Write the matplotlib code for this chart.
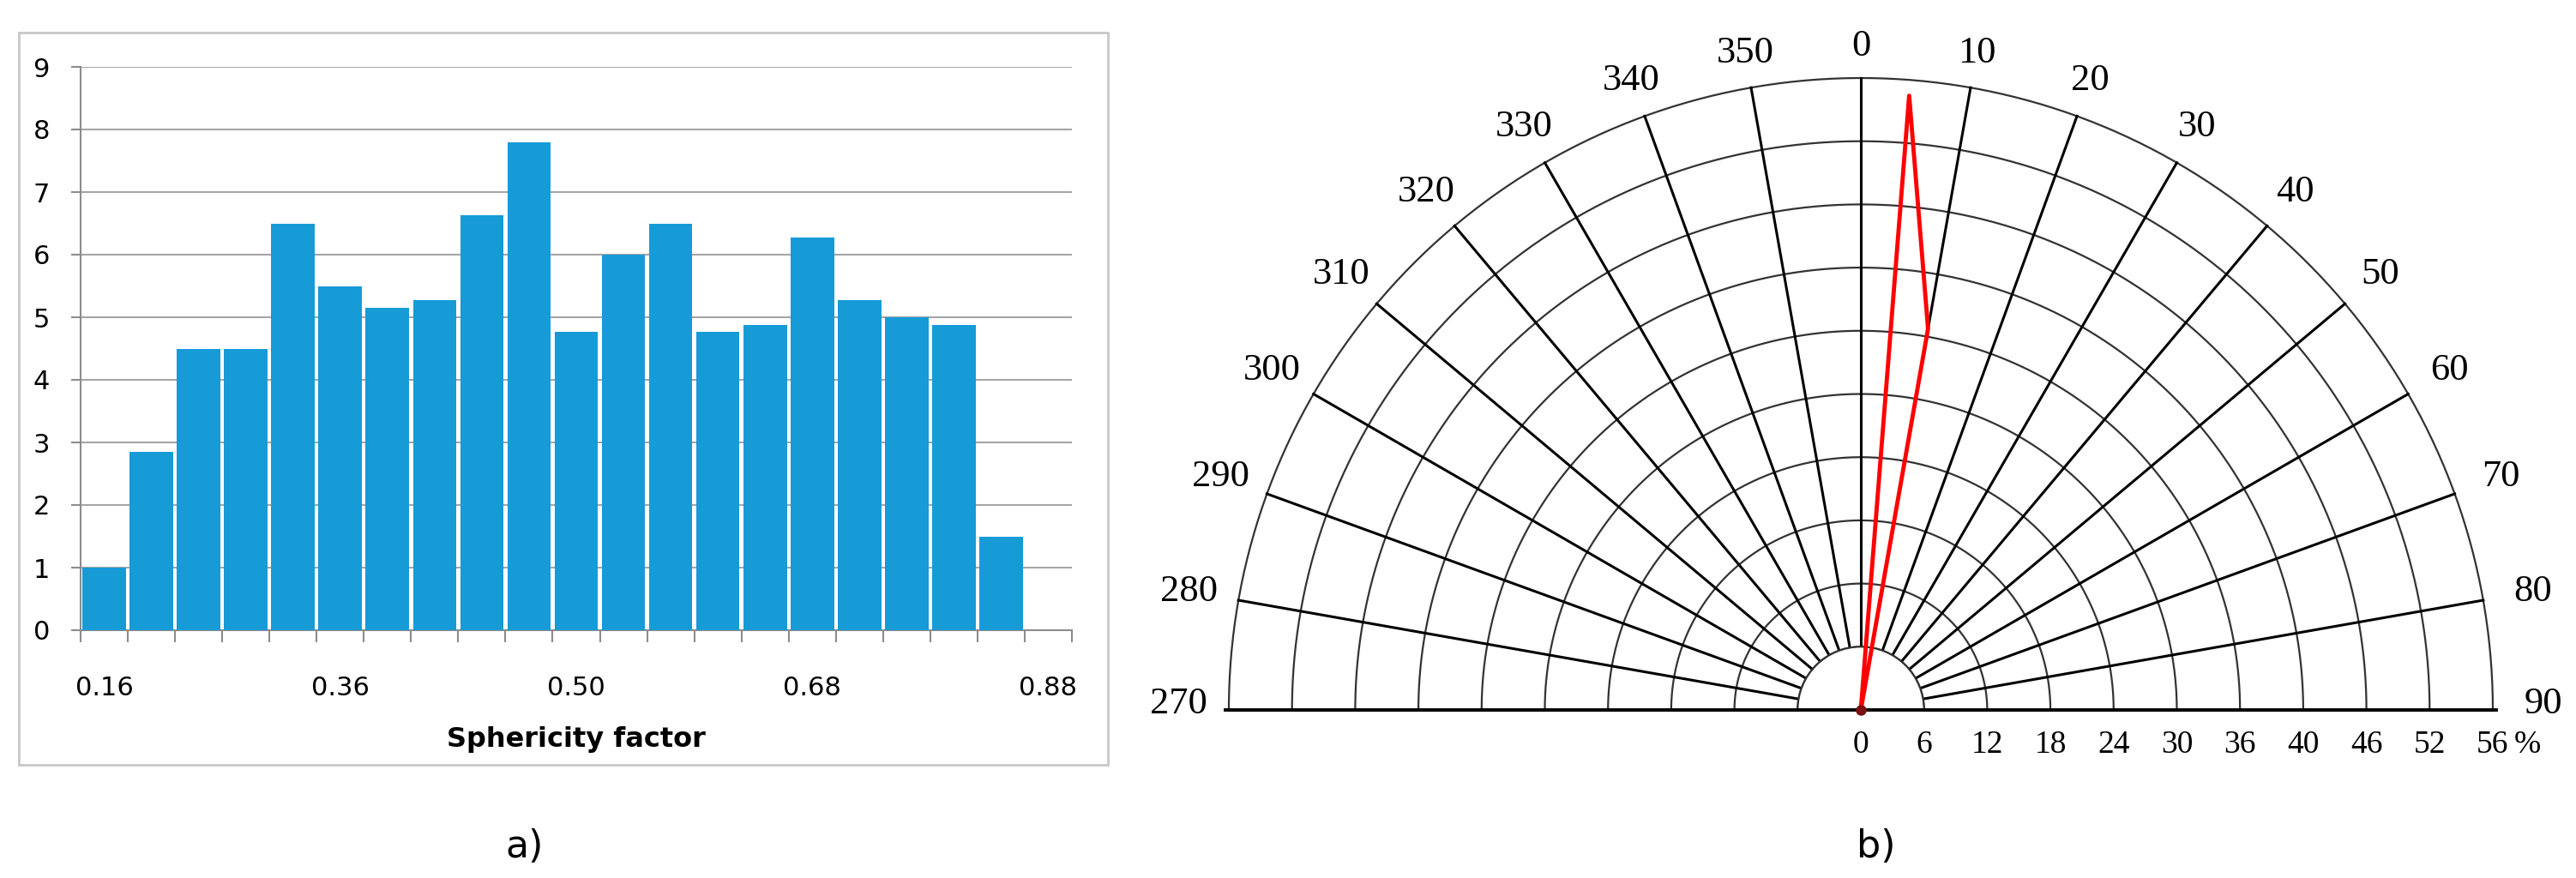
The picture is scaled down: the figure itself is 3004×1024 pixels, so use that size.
import numpy as np
import matplotlib.pyplot as plt
from matplotlib.patches import Rectangle, Wedge

# ---- data ----
slots = list(range(21))
counts = [1.0, 2.85, 4.5, 4.5, 6.5, 5.5, 5.15, 5.27, 6.63, 7.8,
          4.77, 6.0, 6.5, 4.77, 4.88, 6.28, 5.27, 5.0, 4.88, 1.5]
x_tick_labels = ["0.16", "0.36", "0.50", "0.68", "0.88"]
x_tick_slots = [0, 5, 10, 15, 20]

angle_labels = [0, 10, 20, 30, 40, 50, 60, 70, 80, 90,
                270, 280, 290, 300, 310, 320, 330, 340, 350]
ring_labels = [0, 6, 12, 18, 24, 30, 36, 40, 46, 52, 56]
rose_angles = [0, 4.5, 10.0, 0]      # degrees from north
rose_freq = [0, 55.0, 36.5, 0]       # percent

W, H = 3004, 1024
fig = plt.figure(figsize=(W / 100, H / 100), dpi=100)

# ---- a) histogram ----
fig.patches.append(Rectangle((22 / W, 1 - 892 / H), 1270 / W, 854 / H,
                             transform=fig.transFigure, fill=False,
                             edgecolor="#c8c8c8", lw=2))
ax = fig.add_axes([94 / W, 1 - 735 / H, 1156 / W, 657 / H])
ax.bar(np.arange(len(counts)) + 0.5, counts, width=0.92, color="#179bd7", zorder=3)
ax.set_xlim(0, len(slots))
ax.set_ylim(0, 9)
ax.set_yticks(range(10))
ax.yaxis.grid(True, color="#a6a6a6", lw=1.5, zorder=0)
ax.set_xticks(np.arange(len(slots) + 1))
ax.set_xticklabels([])
ax.set_xticks(np.array(x_tick_slots) + 0.5, minor=True)
ax.set_xticklabels(x_tick_labels, minor=True)
ax.tick_params(axis="x", which="minor", length=0, pad=38, labelsize=22)
ax.tick_params(axis="x", which="major", length=10, color="#8c8c8c", width=1.5)
ax.tick_params(axis="y", length=8, color="#8c8c8c", width=1.5, labelsize=22, pad=18)
for s in ["top", "right"]:
    ax.spines[s].set_visible(False)
for s in ["left", "bottom"]:
    ax.spines[s].set_color("#8c8c8c")
    ax.spines[s].set_linewidth(1.5)
ax.set_xlabel("Sphericity factor", fontsize=23, fontweight="bold", labelpad=22)
fig.text(612 / W, 1 - 987 / H, "a)", fontsize=32, ha="center", va="center")
fig.text(2188 / W, 1 - 987 / H, "b)", fontsize=32, ha="center", va="center")

# ---- b) rose diagram ----
scale = 73.7
cx, cy = 770, 196
bx = fig.add_axes([1400 / W, 0, 1604 / W, 1])
bx.set_xlim(-cx / scale, (1604 - cx) / scale)
bx.set_ylim(-cy / scale, (H - cy) / scale)
bx.axis("off")

nring = len(ring_labels) - 1
t = np.linspace(0, np.pi, 300)
for i in range(1, nring + 1):
    bx.plot(i * np.cos(t), i * np.sin(t), color="#333333", lw=1.6, zorder=1)
for a in range(-90, 91, 10):
    th = np.radians(90 - a)
    bx.plot([np.cos(th), nring * np.cos(th)], [np.sin(th), nring * np.sin(th)],
            color="black", lw=2.2, zorder=1)
bx.add_patch(Wedge((0, 0), 1, 0, 180, facecolor="white", edgecolor="#333333",
                   lw=1.6, zorder=2))
bx.plot([-nring - 0.05, nring + 0.05], [0, 0], color="black", lw=2.8, zorder=3)

for lab in angle_labels:
    a = lab if lab <= 90 else lab - 360
    th = np.radians(90 - a)
    r = 10.5 + 0.3 * abs(np.sin(th - np.pi / 2))
    bx.text(r * np.cos(th), r * np.sin(th) + (0.1 if abs(a) == 90 else 0), str(lab),
            ha="center", va="center", fontsize=32, family="Liberation Serif")
for i, lab in enumerate(ring_labels):
    bx.text(i, -0.55, str(lab), ha="center", va="center", fontsize=27,
            family="Liberation Serif")
bx.text(nring + 0.55, -0.55, "%", ha="center", va="center", fontsize=27,
        family="Liberation Serif")

rr = np.interp(rose_freq, ring_labels, np.arange(len(ring_labels)))
th = np.radians(90 - np.array(rose_angles))
bx.plot(rr * np.cos(th), rr * np.sin(th), color="#ff0000", lw=3.5, zorder=4)
bx.plot(0, 0, "o", color="#7a1010", ms=8, zorder=5)

fig.savefig("out.png", dpi=100)
